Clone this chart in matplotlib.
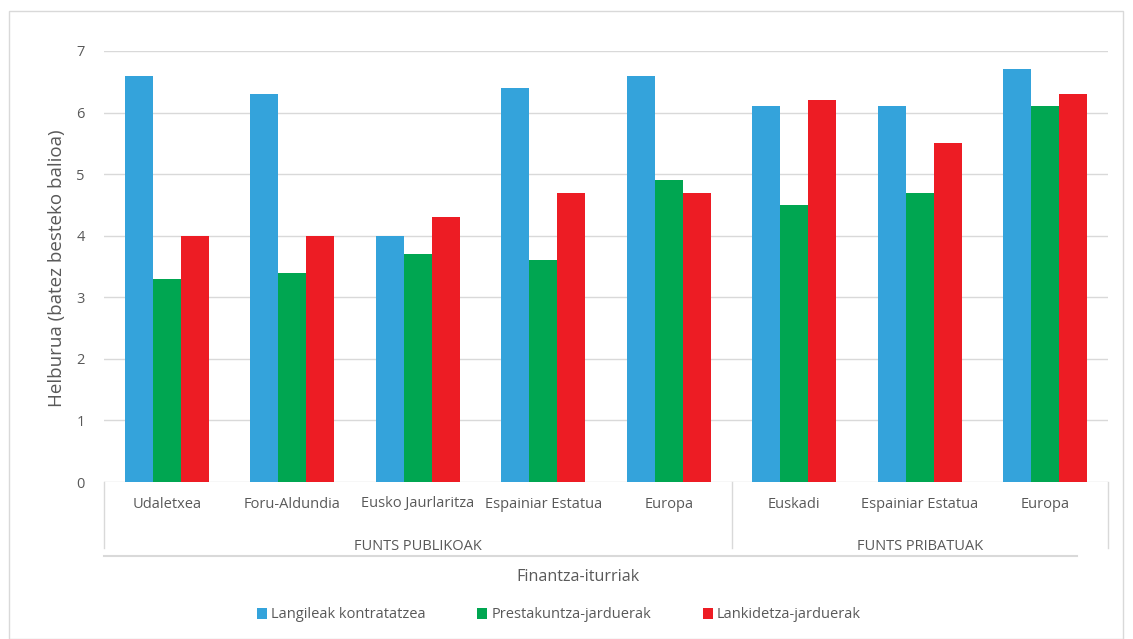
import matplotlib
matplotlib.use("Agg")
import matplotlib.pyplot as plt
from matplotlib.patches import Rectangle
import numpy as np

categories = ["Udaletxea", "Foru-Aldundia", "Eusko Jaurlaritza", "Espainiar Estatua", "Europa",
              "Euskadi", "Espainiar Estatua", "Europa"]
groups = ["FUNTS PUBLIKOAK", "FUNTS PRIBATUAK"]
group_sizes = [5, 3]
series_names = ["Langileak kontratatzea", "Prestakuntza-jarduerak", "Lankidetza-jarduerak"]
langileak = [6.6, 6.3, 4.0, 6.4, 6.6, 6.1, 6.1, 6.7]
prestakuntza = [3.3, 3.4, 3.7, 3.6, 4.9, 4.5, 4.7, 6.1]
lankidetza = [4.0, 4.0, 4.3, 4.7, 4.7, 6.2, 5.5, 6.3]
colors = ["#34A3DB", "#00A651", "#ED1C24"]
y_ticks = [0, 1, 2, 3, 4, 5, 6, 7]

plt.rcParams['font.family'] = ['Open Sans', 'DejaVu Sans']
txt = "#595959"

fig = plt.figure(figsize=(11.33, 6.39), dpi=100)
W, H = 1133, 639
fig.patches.append(Rectangle((9 / W, 0), (1123 - 9) / W, (639 - 11) / H, transform=fig.transFigure,
                             fill=False, edgecolor="#D9D9D9", linewidth=1))
ax = fig.add_axes([104 / W, 1 - 482 / H, (1108 - 104) / W, (482 - 51) / H])

x = np.arange(len(categories))
bw = 0.223
for i, (vals, name) in enumerate(zip([langileak, prestakuntza, lankidetza], series_names)):
    ax.bar(x + (i - 1) * bw, vals, bw, color=colors[i], label=name, zorder=3)

ax.set_xlim(-0.5, len(categories) - 0.5)
ax.set_ylim(0, 7)
ax.set_yticks(y_ticks)
ax.yaxis.grid(True, color="#D9D9D9", linewidth=1, zorder=0)
for s in ax.spines.values():
    s.set_visible(False)
ax.tick_params(axis='y', length=0, labelsize=10.5, labelcolor=txt, pad=14)
ax.set_xticks([])

fig.text(57 / W, 1 - 268 / H, "Helburua (batez besteko balioa)", rotation=90, ha="center", va="center",
         fontsize=13.5, color=txt)

trans = ax.get_xaxis_transform()
line_col = "#D9D9D9"
y_vend = (482 - 548) / 431
y_cat = (482 - 504) / 431
y_grp = (482 - 546) / 431
y_h = (482 - 556) / 431
for xv in [-0.5, 4.5, 7.5]:
    ax.plot([xv, xv], [0, y_vend], transform=trans, color=line_col, linewidth=1, clip_on=False)
ax.plot([-0.5, 7.25], [y_h, y_h], transform=trans, color=line_col, linewidth=1.5, clip_on=False)
for xi, c in zip(x, categories):
    ax.text(xi, y_cat, c, transform=trans, ha="center", va="center", fontsize=10.5, color=txt)
start = 0
for g, n in zip(groups, group_sizes):
    ax.text(start + (n - 1) / 2, y_grp, g, transform=trans, ha="center", va="center", fontsize=10.5, color=txt)
    start += n

fig.text(578 / W, 1 - 577 / H, "Finantza-iturriak", ha="center", va="center", fontsize=11.6, color=txt)

leg = fig.legend(loc="center", bbox_to_anchor=(559 / W, 1 - 615 / H), ncol=3, frameon=False,
                 fontsize=10.5, handlelength=0.7, handleheight=0.7, handletextpad=0.3, columnspacing=3.5)
for t in leg.get_texts():
    t.set_color(txt)

fig.savefig("out.png", dpi=100)
